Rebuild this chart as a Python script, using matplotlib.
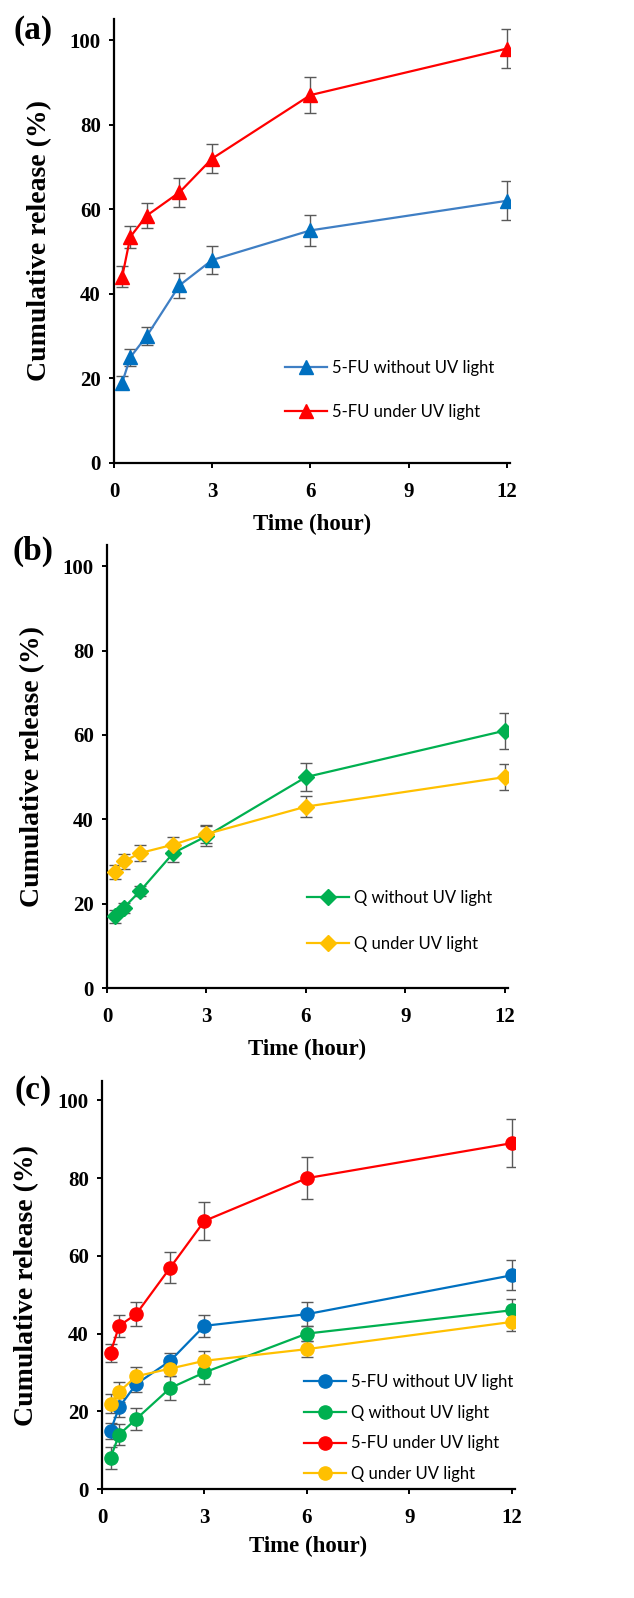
import matplotlib
matplotlib.use("Agg")
import matplotlib.pyplot as plt

# time points (hour)
time_h = [0.25, 0.5, 1, 2, 3, 6, 12]

# panel (a): 5-FU
fu_dark = [19, 25, 30, 42, 48, 55, 62]
fu_dark_err = [1.5, 2.0, 2.1, 3.0, 3.4, 3.7, 4.6]
fu_uv = [44, 53.5, 58.5, 64, 72, 87, 98]
fu_uv_err = [2.5, 2.6, 3.0, 3.5, 3.5, 4.3, 4.7]

# panel (b): Q
q_dark = [17, 19, 23, 32, 36, 50, 61]
q_dark_err = [1.6, 1.2, 1.3, 2.2, 2.3, 3.3, 4.3]
q_uv = [27.5, 30, 32, 34, 36.5, 43, 50]
q_uv_err = [1.6, 1.8, 2.0, 1.9, 2.1, 2.5, 3.0]

# panel (c): combined
c_fu_dark = [15, 21, 27, 33, 42, 45, 55]
c_fu_dark_err = [2.0, 2.5, 2.0, 2.0, 2.9, 3.1, 3.9]
c_q_dark = [8, 14, 18, 26, 30, 40, 46]
c_q_dark_err = [2.8, 2.8, 2.8, 3.0, 3.0, 1.9, 3.0]
c_fu_uv = [35, 42, 45, 57, 69, 80, 89]
c_fu_uv_err = [2.3, 2.9, 3.1, 4.1, 4.8, 5.4, 6.2]
c_q_uv = [22, 25, 29, 31, 33, 36, 43]
c_q_uv_err = [2.5, 2.6, 2.3, 2.0, 2.6, 2.0, 2.3]

x_ticks = [0, 3, 6, 9, 12]
y_ticks = [0, 20, 40, 60, 80, 100]

BLUE = "#0070c0"
BLUE_LINE = "#3f7fc4"
RED = "#ff0000"
GREEN = "#00b050"
ORANGE = "#ffc000"
ERR = "#595959"
SERIF = "Liberation Serif"
SANS = "Lato"
W, H = 634, 1598


def draw(ax, y, err, color, marker, ms, label, line=None):
    ax.errorbar(time_h, y, yerr=err, fmt="none", ecolor=ERR, elinewidth=1.0,
                capsize=4, capthick=1.0, zorder=2)
    ax.plot(time_h, y, color=line or color, lw=1.6, marker=marker, ms=ms,
            mfc=color, mec=color, label=label, zorder=3)


def style(ax, ylab_x):
    ax.set_xlim(0, 12.1)
    ax.set_ylim(0, 105)
    ax.set_xticks(x_ticks)
    ax.set_yticks(y_ticks)
    for s in ["top", "right"]:
        ax.spines[s].set_visible(False)
    for s in ["left", "bottom"]:
        ax.spines[s].set_linewidth(1.6)
    ax.tick_params(axis="x", length=3.5, width=1.4, pad=10)
    ax.tick_params(axis="y", length=3.5, width=1.4, pad=6)
    for lab in ax.get_xticklabels() + ax.get_yticklabels():
        lab.set_fontfamily(SERIF)
        lab.set_fontweight("bold")
        lab.set_fontsize(15)
    ax.set_xlabel("Time (hour)", fontfamily=SERIF, fontweight="bold", fontsize=16.5)
    ax.set_ylabel("Cumulative release (%)", fontfamily=SERIF, fontweight="bold", fontsize=20)
    ax.yaxis.set_label_coords(ylab_x, 0.5)
    ax.xaxis.set_label_coords(0.5, -0.115)


def legend(ax, fig, x_px, y_px, spacing):
    ax.legend(loc="center left", bbox_to_anchor=(x_px / W, 1 - y_px / H),
              bbox_transform=fig.transFigure, frameon=False,
              prop={"family": SANS, "size": 12}, handlelength=2.5,
              handletextpad=0.3, labelspacing=spacing, borderpad=0,
              borderaxespad=0)


fig = plt.figure(figsize=(W / 100, H / 100), dpi=100)

ax_a = fig.add_axes([0.1798, 0.7103, 0.6246, 0.2778])
draw(ax_a, fu_dark, fu_dark_err, BLUE, "^", 10, "5-FU without UV light", BLUE_LINE)
draw(ax_a, fu_uv, fu_uv_err, RED, "^", 10, "5-FU under UV light")
style(ax_a, -0.157)
legend(ax_a, fig, 285, 390, 1.66)

ax_b = fig.add_axes([0.1688, 0.3817, 0.6325, 0.2772])
draw(ax_b, q_dark, q_dark_err, GREEN, "D", 8.5, "Q without UV light")
draw(ax_b, q_uv, q_uv_err, ORANGE, "D", 8.5, "Q under UV light")
style(ax_b, -0.155)
legend(ax_b, fig, 307, 921, 1.78)

ax_c = fig.add_axes([0.1609, 0.0682, 0.6514, 0.2553])
draw(ax_c, c_fu_dark, c_fu_dark_err, BLUE, "o", 9.5, "5-FU without UV light")
draw(ax_c, c_q_dark, c_q_dark_err, GREEN, "o", 9.5, "Q without UV light")
draw(ax_c, c_fu_uv, c_fu_uv_err, RED, "o", 9.5, "5-FU under UV light")
draw(ax_c, c_q_uv, c_q_uv_err, ORANGE, "o", 9.5, "Q under UV light")
style(ax_c, -0.153)
legend(ax_c, fig, 304, 1428, 0.89)

for letter, ypix in [("(a)", 30), ("(b)", 551), ("(c)", 1091)]:
    fig.text(33 / W, 1 - ypix / H, letter, fontfamily=SERIF,
             fontweight="bold", fontsize=24, ha="center", va="center")

fig.savefig("out.png", dpi=100)
